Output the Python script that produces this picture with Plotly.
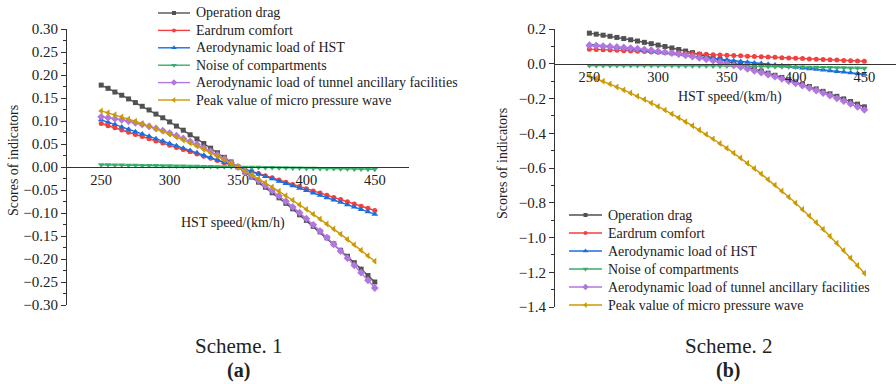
import plotly.graph_objects as go

W, H = 896, 384
FONT = "Liberation Serif, Times New Roman, serif"
INK = "#222222"
AXIS = "#333333"

# HST speed (km/h)
speed = [250, 255, 260, 265, 270, 275, 280, 285, 290, 295,
         300, 305, 310, 315, 320, 325, 330, 335, 340, 345,
         350, 355, 360, 365, 370, 375, 380, 385, 390, 395,
         400, 405, 410, 415, 420, 425, 430, 435, 440, 445, 450]

x_ticks = [250, 300, 350, 400, 450]

indicator_names = [
    "Operation drag",
    "Eardrum comfort",
    "Aerodynamic load of HST",
    "Noise of compartments",
    "Aerodynamic load of tunnel ancillary facilities",
    "Peak value of micro pressure wave",
]

# ---- Scheme 1 scores ----
s1_drag = [0.178, 0.171, 0.163, 0.156, 0.148, 0.140, 0.132, 0.124, 0.115, 0.107,
           0.098, 0.089, 0.080, 0.070, 0.061, 0.051, 0.041, 0.031, 0.021, 0.011,
           0.000, -0.011, -0.022, -0.033, -0.044, -0.056, -0.067, -0.079, -0.091, -0.104,
           -0.116, -0.129, -0.141, -0.154, -0.167, -0.181, -0.194, -0.208, -0.222, -0.236, -0.250]
s1_eardrum = [0.0945, 0.0898, 0.0851, 0.0803, 0.0756, 0.0709, 0.0662, 0.0614, 0.0567, 0.0520,
              0.0473, 0.0425, 0.0378, 0.0331, 0.0284, 0.0236, 0.0189, 0.0142, 0.0095, 0.0047,
              0.0, -0.0047, -0.0095, -0.0142, -0.0189, -0.0236, -0.0284, -0.0331, -0.0378, -0.0425,
              -0.0473, -0.0520, -0.0567, -0.0614, -0.0662, -0.0709, -0.0756, -0.0803, -0.0851, -0.0898, -0.0945]
s1_hst_load = [0.1025, 0.0974, 0.0923, 0.0871, 0.0820, 0.0769, 0.0718, 0.0666, 0.0615, 0.0564,
               0.0513, 0.0461, 0.0410, 0.0359, 0.0308, 0.0256, 0.0205, 0.0154, 0.0103, 0.0051,
               0.0, -0.0051, -0.0103, -0.0154, -0.0205, -0.0256, -0.0308, -0.0359, -0.0410, -0.0461,
               -0.0513, -0.0564, -0.0615, -0.0666, -0.0718, -0.0769, -0.0820, -0.0871, -0.0923, -0.0974, -0.1025]
s1_noise = [0.0050, 0.0048, 0.0045, 0.0043, 0.0040, 0.0038, 0.0035, 0.0033, 0.0030, 0.0028,
            0.0025, 0.0023, 0.0020, 0.0018, 0.0015, 0.0013, 0.0010, 0.0008, 0.0005, 0.0003,
            0.0, -0.0003, -0.0005, -0.0008, -0.0010, -0.0013, -0.0015, -0.0018, -0.0020, -0.0023,
            -0.0025, -0.0028, -0.0030, -0.0033, -0.0035, -0.0038, -0.0040, -0.0043, -0.0045, -0.0048, -0.0050]
s1_tunnel_load = [0.1090, 0.1072, 0.1050, 0.1025, 0.0995, 0.0962, 0.0925, 0.0884, 0.0839, 0.0790,
                  0.0738, 0.0681, 0.0621, 0.0557, 0.0489, 0.0417, 0.0341, 0.0262, 0.0178, 0.0091,
                  0.0, -0.0095, -0.0194, -0.0296, -0.0403, -0.0513, -0.0627, -0.0745, -0.0867, -0.0993,
                  -0.1123, -0.1256, -0.1393, -0.1534, -0.1679, -0.1828, -0.1981, -0.2137, -0.2298, -0.2462, -0.2630]
s1_micro_wave = [0.1220, 0.1179, 0.1135, 0.1090, 0.1042, 0.0993, 0.0941, 0.0888, 0.0832, 0.0774,
                 0.0714, 0.0652, 0.0588, 0.0521, 0.0453, 0.0383, 0.0310, 0.0236, 0.0159, 0.0081,
                 0.0, -0.0083, -0.0168, -0.0254, -0.0344, -0.0435, -0.0528, -0.0623, -0.0720, -0.0820,
                 -0.0921, -0.1025, -0.1130, -0.1238, -0.1348, -0.1459, -0.1574, -0.1690, -0.1808, -0.1928, -0.2050]

# ---- Scheme 2 scores ----
s2_drag = [0.1760, 0.1703, 0.1643, 0.1581, 0.1516, 0.1449, 0.1379, 0.1307, 0.1232, 0.1155,
           0.1075, 0.0993, 0.0908, 0.0821, 0.0731, 0.0639, 0.0544, 0.0447, 0.0347, 0.0245,
           0.0140, 0.0033, -0.0077, -0.0189, -0.0304, -0.0421, -0.0541, -0.0663, -0.0788, -0.0915,
           -0.1045, -0.1177, -0.1312, -0.1449, -0.1589, -0.1731, -0.1876, -0.2023, -0.2173, -0.2325, -0.2480]
s2_eardrum = [0.0840, 0.0823, 0.0805, 0.0788, 0.0770, 0.0753, 0.0735, 0.0718, 0.0700, 0.0683,
              0.0665, 0.0648, 0.0630, 0.0613, 0.0595, 0.0578, 0.0560, 0.0543, 0.0525, 0.0508,
              0.0490, 0.0473, 0.0455, 0.0438, 0.0420, 0.0403, 0.0385, 0.0368, 0.0350, 0.0333,
              0.0315, 0.0298, 0.0280, 0.0263, 0.0245, 0.0228, 0.0210, 0.0193, 0.0175, 0.0158, 0.0140]
s2_hst_load = [0.1120, 0.1073, 0.1026, 0.0980, 0.0934, 0.0888, 0.0842, 0.0796, 0.0750, 0.0705,
               0.0660, 0.0615, 0.0570, 0.0526, 0.0482, 0.0438, 0.0394, 0.0350, 0.0306, 0.0263,
               0.0220, 0.0177, 0.0134, 0.0092, 0.0050, 0.0008, -0.0034, -0.0076, -0.0118, -0.0159,
               -0.0200, -0.0241, -0.0282, -0.0322, -0.0362, -0.0402, -0.0442, -0.0482, -0.0522, -0.0561, -0.0600]
s2_noise = [-0.0100, -0.0099, -0.0099, -0.0098, -0.0098, -0.0098, -0.0099, -0.0099, -0.0100, -0.0101,
            -0.0103, -0.0104, -0.0106, -0.0108, -0.0111, -0.0113, -0.0116, -0.0119, -0.0123, -0.0126,
            -0.0130, -0.0134, -0.0139, -0.0143, -0.0148, -0.0153, -0.0159, -0.0164, -0.0170, -0.0176,
            -0.0183, -0.0189, -0.0196, -0.0203, -0.0211, -0.0218, -0.0226, -0.0234, -0.0243, -0.0251, -0.0260]
s2_tunnel_load = [0.1050, 0.1036, 0.1017, 0.0995, 0.0968, 0.0938, 0.0903, 0.0865, 0.0822, 0.0776,
                  0.0725, 0.0671, 0.0612, 0.0550, 0.0483, 0.0413, 0.0338, 0.0260, 0.0177, 0.0091,
                  0.0, -0.0095, -0.0193, -0.0296, -0.0402, -0.0513, -0.0627, -0.0746, -0.0868, -0.0995,
                  -0.1125, -0.1260, -0.1398, -0.1541, -0.1687, -0.1838, -0.1992, -0.2151, -0.2313, -0.2480, -0.2650]
s2_micro_wave = [-0.0700, -0.0851, -0.1006, -0.1168, -0.1335, -0.1507, -0.1686, -0.1870, -0.2060, -0.2257,
                 -0.2460, -0.2669, -0.2885, -0.3107, -0.3337, -0.3572, -0.3816, -0.4065, -0.4323, -0.4588,
                 -0.4860, -0.5140, -0.5427, -0.5723, -0.6026, -0.6338, -0.6657, -0.6985, -0.7321, -0.7667,
                 -0.8020, -0.8383, -0.8754, -0.9134, -0.9524, -0.9923, -1.0331, -1.0748, -1.1176, -1.1613, -1.2060]

scheme1 = [s1_drag, s1_eardrum, s1_hst_load, s1_noise, s1_tunnel_load, s1_micro_wave]
scheme2 = [s2_drag, s2_eardrum, s2_hst_load, s2_noise, s2_tunnel_load, s2_micro_wave]

colors = ["#515151", "#F14040", "#1A6FDF", "#37AD6B", "#B177DE", "#CC9900"]
symbols = ["square", "circle", "triangle-up", "triangle-down", "diamond", "triangle-left"]
msizes = [5, 5, 6, 6, 6, 6]


def fx(px):
    return px / W


def fy(py):
    return 1 - py / H


fig = go.Figure()

for i, name in enumerate(indicator_names):
    for ys, xa, ya in ((scheme1[i], "x", "y"), (scheme2[i], "x2", "y2")):
        fig.add_trace(go.Scatter(
            x=speed, y=ys, xaxis=xa, yaxis=ya, name=name, showlegend=False,
            mode="lines+markers",
            line=dict(color=colors[i], width=1.4),
            marker=dict(symbol=symbols[i], size=msizes[i], color=colors[i]),
        ))

# Legend keys drawn on a pixel-space overlay axis
leg1_rows = [13, 30.4, 47.8, 65.2, 82.6, 100]
leg2_rows = [215, 233, 251, 269, 287, 305]
leg1_x = (158, 190)
leg2_x = (569, 602)

annotations = []
for rows, (xa0, xa1) in ((leg1_rows, leg1_x), (leg2_rows, leg2_x)):
    for i, row in enumerate(rows):
        fig.add_trace(go.Scatter(
            x=[xa0, xa1], y=[row, row], xaxis="x3", yaxis="y3", mode="lines",
            line=dict(color=colors[i], width=1.4), showlegend=False, hoverinfo="skip"))
        fig.add_trace(go.Scatter(
            x=[(xa0 + xa1) / 2], y=[row], xaxis="x3", yaxis="y3", mode="markers",
            marker=dict(symbol=symbols[i], size=msizes[i] - 1, color=colors[i]),
            showlegend=False, hoverinfo="skip"))
        annotations.append(dict(
            text=indicator_names[i], x=fx(xa1 + 3.5), y=fy(row), xref="paper", yref="paper",
            xanchor="left", yanchor="middle", showarrow=False,
            font=dict(family=FONT, size=14, color=INK)))


# Axis titles and panel captions
def label(text, px, py, size=14, angle=0, bold=False):
    annotations.append(dict(
        text=f"<b>{text}</b>" if bold else text, x=fx(px), y=fy(py),
        xref="paper", yref="paper", xanchor="center", yanchor="middle",
        showarrow=False, textangle=angle, borderpad=0,
        font=dict(family=FONT, size=size, color=INK)))


label("HST speed/(km/h)", 232.5, 223)
label("HST speed/(km/h)", 730, 97)
label("Scores of indicators", 14, 161, angle=-90)
label("Scores of indicators", 503, 164, angle=-90)
label("Scheme. 1", 238.5, 346, size=21)
label("(a)", 238.5, 370, size=20, bold=True)
label("Scheme. 2", 728, 346, size=21)
label("(b)", 728, 370, size=20, bold=True)

# Panel geometry
y1_dom = [fy(305), fy(29)]
y1_rng = [-0.30, 0.30]
y2_dom = [fy(307), fy(29)]
y2_rng = [-1.4, 0.2]


def zero_pos(dom, rng):
    return dom[0] + (0 - rng[0]) / (rng[1] - rng[0]) * (dom[1] - dom[0])


tickfont = dict(family=FONT, size=15, color=INK)
xtickfont = dict(family=FONT, size=14.5, color=INK)

common_x = dict(showline=True, linecolor=AXIS, linewidth=1, showgrid=False, zeroline=False,
                tickvals=x_ticks, ticks="", tickfont=xtickfont, anchor="free",
                automargin=False)
common_y = dict(showline=True, linecolor=AXIS, linewidth=1, showgrid=False, zeroline=False,
                ticks="outside", ticklen=5, tickwidth=1, tickcolor=AXIS, tickfont=tickfont,
                automargin=False)

fig.update_layout(
    template="none",
    width=W, height=H,
    margin=dict(l=0, r=0, t=0, b=0, pad=0, autoexpand=False),
    paper_bgcolor="white", plot_bgcolor="rgba(0,0,0,0)",
    showlegend=False,
    xaxis=dict(domain=[fx(67), fx(409)], range=[225, 475],
               position=zero_pos(y1_dom, y1_rng), **common_x),
    yaxis=dict(domain=y1_dom, range=y1_rng, anchor="x", dtick=0.05, tick0=0,
               tickformat=".2f",
               minor=dict(ticks="outside", ticklen=3, dtick=0.025, tick0=0,
                          tickcolor=AXIS, showgrid=False),
               **common_y),
    xaxis2=dict(domain=[fx(555), 1.0], range=[225, 473],
                position=zero_pos(y2_dom, y2_rng), **common_x),
    yaxis2=dict(domain=y2_dom, range=y2_rng, anchor="x2", dtick=0.2, tick0=0,
                tickformat=".1f",
                minor=dict(ticks="outside", ticklen=3, dtick=0.1, tick0=0,
                           tickcolor=AXIS, showgrid=False),
                **common_y),
    xaxis3=dict(domain=[0, 1], range=[0, W], visible=False, anchor="y3",
                fixedrange=True, automargin=False),
    yaxis3=dict(domain=[0, 1], range=[H, 0], visible=False, anchor="x3",
                fixedrange=True, automargin=False),
    annotations=annotations,
)

# Page without body margin so the figure fills the window exactly
fig.write_html(
    "out.html",
    config={"displayModeBar": False},
    post_script="document.body.style.margin='0';document.documentElement.style.overflow='hidden';",
)
